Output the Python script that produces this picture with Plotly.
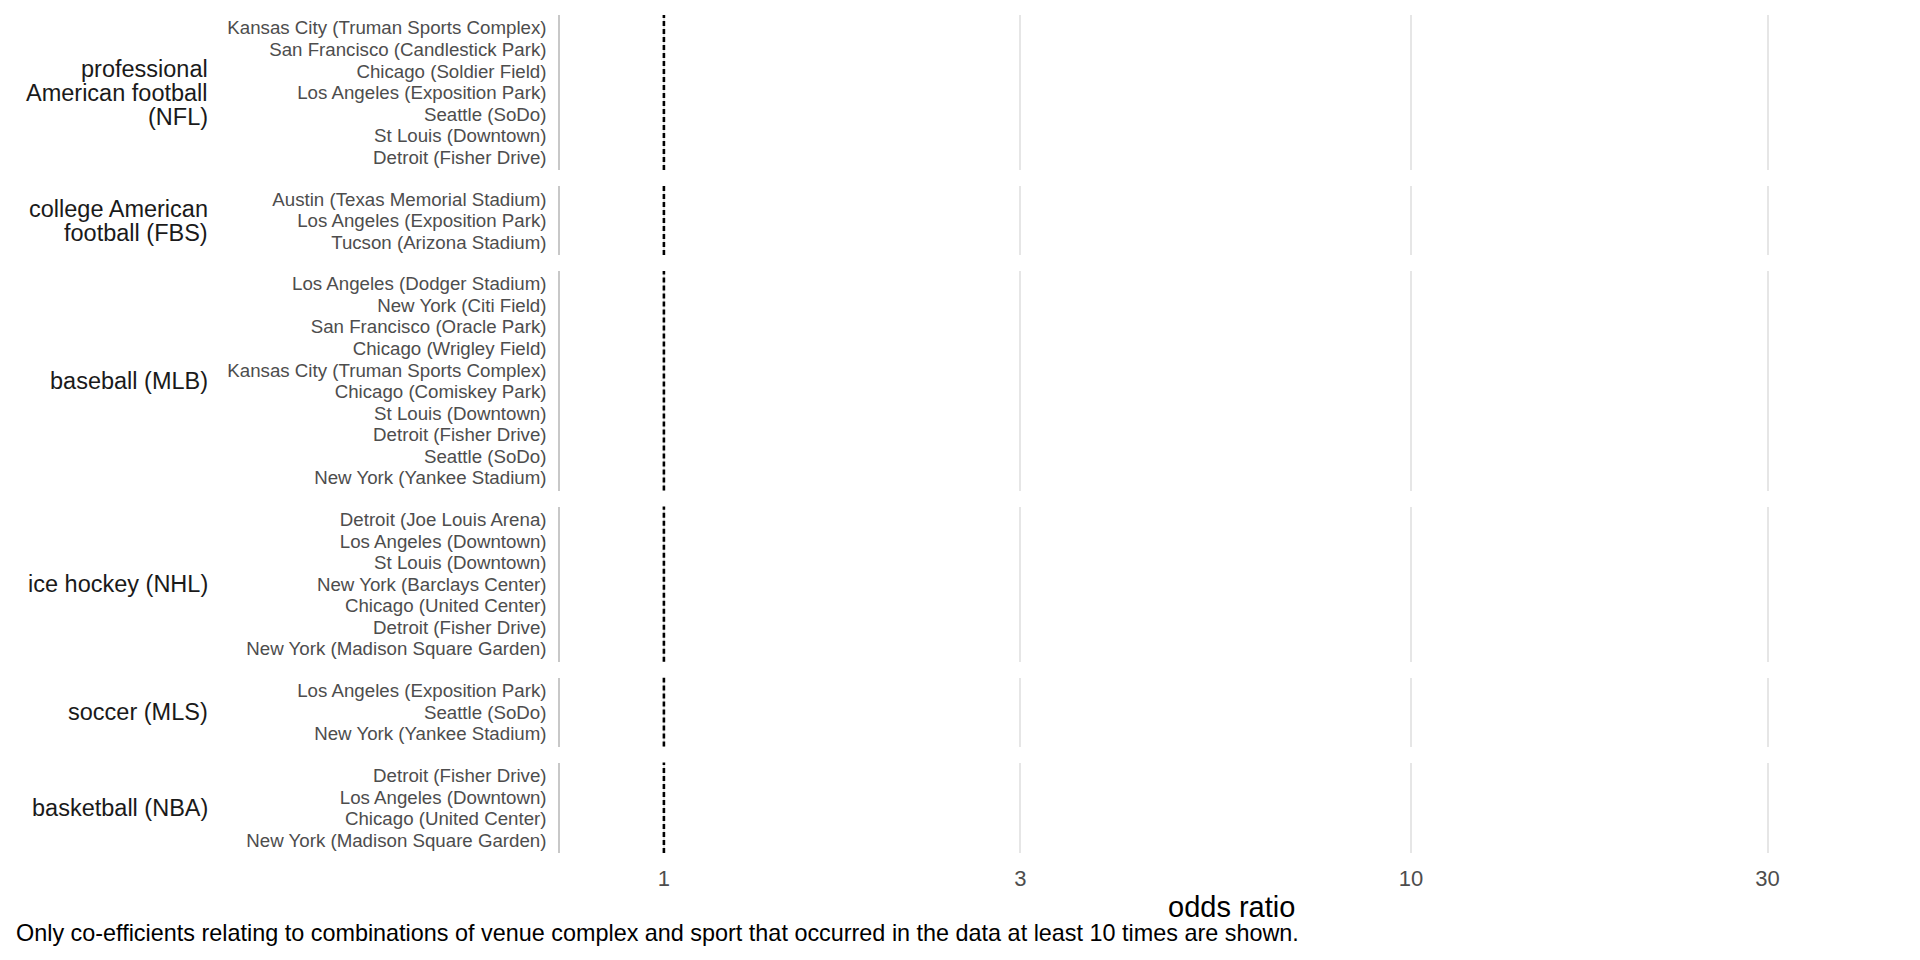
import math
import plotly.graph_objects as go
from plotly.subplots import make_subplots

# ---------------- data ----------------
SPORTS = [
    "professional\nAmerican football\n(NFL)",
    "college American\nfootball (FBS)",
    "baseball (MLB)",
    "ice hockey (NHL)",
    "soccer (MLS)",
    "basketball (NBA)",
]

NFL_VENUES = [
    "Kansas City (Truman Sports Complex)",
    "San Francisco (Candlestick Park)",
    "Chicago (Soldier Field)",
    "Los Angeles (Exposition Park)",
    "Seattle (SoDo)",
    "St Louis (Downtown)",
    "Detroit (Fisher Drive)",
]
FBS_VENUES = [
    "Austin (Texas Memorial Stadium)",
    "Los Angeles (Exposition Park)",
    "Tucson (Arizona Stadium)",
]
MLB_VENUES = [
    "Los Angeles (Dodger Stadium)",
    "New York (Citi Field)",
    "San Francisco (Oracle Park)",
    "Chicago (Wrigley Field)",
    "Kansas City (Truman Sports Complex)",
    "Chicago (Comiskey Park)",
    "St Louis (Downtown)",
    "Detroit (Fisher Drive)",
    "Seattle (SoDo)",
    "New York (Yankee Stadium)",
]
NHL_VENUES = [
    "Detroit (Joe Louis Arena)",
    "Los Angeles (Downtown)",
    "St Louis (Downtown)",
    "New York (Barclays Center)",
    "Chicago (United Center)",
    "Detroit (Fisher Drive)",
    "New York (Madison Square Garden)",
]
MLS_VENUES = [
    "Los Angeles (Exposition Park)",
    "Seattle (SoDo)",
    "New York (Yankee Stadium)",
]
NBA_VENUES = [
    "Detroit (Fisher Drive)",
    "Los Angeles (Downtown)",
    "Chicago (United Center)",
    "New York (Madison Square Garden)",
]
VENUES = [NFL_VENUES, FBS_VENUES, MLB_VENUES, NHL_VENUES, MLS_VENUES, NBA_VENUES]

X_TICKS = [1, 3, 10, 30]
X_TICK_LABELS = ["1", "3", "10", "30"]
X_LIMITS = [0.726, 45.4]
REF_ODDS = 1
AXIS_TITLE = "odds ratio"
CAPTION = ("Only co-efficients relating to combinations of venue complex and sport "
           "that occurred in the data at least 10 times are shown.")

# ---------------- layout constants ----------------
W, H = 1920, 960
ML, MR, MT, MB = 560, 18, 15, 107
PW = W - ML - MR
PH = H - MT - MB
GAP = 16
FONT = "Liberation Sans, Arial, sans-serif"

units = [len(v) + 0.2 for v in VENUES]
fig = make_subplots(rows=len(VENUES), cols=1, row_heights=units,
                    vertical_spacing=GAP / PH, shared_xaxes=False)

for i, venues in enumerate(VENUES):
    r = i + 1
    n = len(venues)
    fig.add_trace(go.Scatter(x=[None] * n, y=venues, mode="markers",
                             showlegend=False, hoverinfo="skip"), row=r, col=1)
    fig.update_yaxes(row=r, col=1, type="category", categoryorder="array",
                     categoryarray=venues, range=[n - 0.4, -0.6],
                     tickmode="array", tickvals=venues, ticktext=venues,
                     showline=True, linecolor="#c8c8c8", linewidth=1.5,
                     showgrid=False, zeroline=False, ticks="",
                     ticklabelstandoff=8,
                     tickfont=dict(size=18.7, color="#4d4d4d", family=FONT))
    fig.update_xaxes(row=r, col=1, type="log",
                     range=[math.log10(X_LIMITS[0]), math.log10(X_LIMITS[1])],
                     tickvals=X_TICKS, ticktext=X_TICK_LABELS,
                     showgrid=True, gridcolor="#e6e6e6", gridwidth=2,
                     zeroline=False, showline=False, ticks="",
                     ticklabelstandoff=10,
                     showticklabels=(r == len(VENUES)),
                     tickfont=dict(size=22, color="#4d4d4d", family=FONT))
    xr = "x" if r == 1 else f"x{r}"
    yr = "y" if r == 1 else f"y{r}"
    fig.add_shape(type="line", xref=xr, yref=f"{yr} domain",
                  x0=REF_ODDS, x1=REF_ODDS, y0=0, y1=1,
                  line=dict(color="black", width=2.6, dash="5px,3px"))
    # facet (strip) labels on the left
    lines = SPORTS[i].split("\n")
    k = len(lines)
    for j, ln in enumerate(lines):
        fig.add_annotation(text=ln, xref="paper", yref=f"{yr} domain",
                           x=(210 - ML) / PW, y=0.5, xanchor="right", yanchor="middle",
                           yshift=((k - 1) / 2 - j) * 24, showarrow=False,
                           font=dict(size=23.5, color="#1a1a1a", family=FONT))

fig.add_annotation(text=AXIS_TITLE, xref="paper", yref="paper",
                   x=0.5, y=(MT + PH - 907) / PH, xanchor="center", yanchor="middle",
                   showarrow=False, font=dict(size=29, color="black", family=FONT))
fig.add_annotation(text=CAPTION, xref="paper", yref="paper",
                   x=(14 - ML) / PW, y=(MT + PH - 933) / PH, xanchor="left", yanchor="middle",
                   showarrow=False, font=dict(size=23.4, color="black", family=FONT))

fig.update_layout(width=W, height=H, margin=dict(l=ML, r=MR, t=MT, b=MB),
                  plot_bgcolor="white", paper_bgcolor="white",
                  font=dict(family=FONT), showlegend=False)

fig.write_html("out.html")
